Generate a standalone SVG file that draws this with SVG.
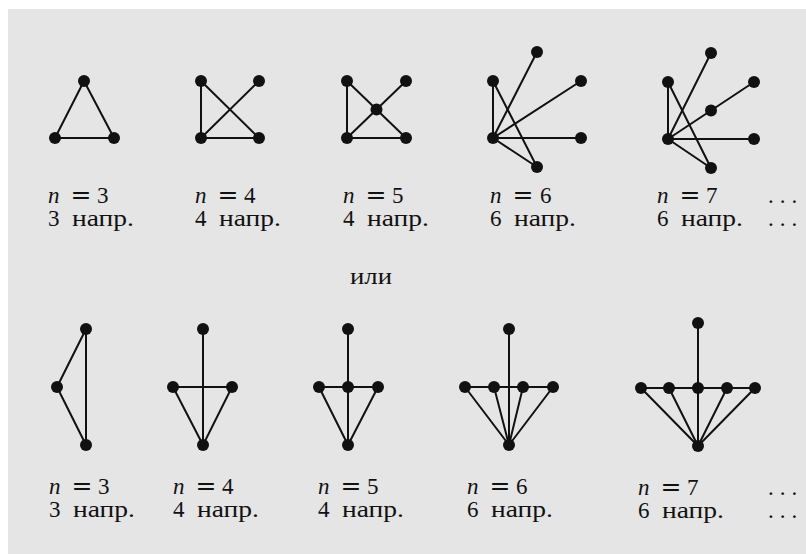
<svg xmlns="http://www.w3.org/2000/svg" width="806" height="554" viewBox="0 0 806 554">
<style>
.bg{fill:#e5e5e5}
.e{stroke:#111;stroke-width:2;fill:none;stroke-linecap:round}
.v{fill:#111}
.t{font-family:"Liberation Serif","Times New Roman",serif;font-size:23px;fill:#111}
.i{font-style:italic}
.eq{font-family:"DejaVu Serif",serif;font-size:25px}
</style>
<rect x="0" y="0" width="806" height="554" fill="#ffffff"/>
<rect class="bg" x="8" y="9" width="798" height="545"/>
<g id="connectors">
<line class="e" x1="84" y1="81" x2="55" y2="138"/>
<line class="e" x1="84" y1="81" x2="114" y2="138"/>
<line class="e" x1="55" y1="138" x2="114" y2="138"/>
<line class="e" x1="201" y1="81" x2="201" y2="138"/>
<line class="e" x1="201" y1="81" x2="259" y2="138"/>
<line class="e" x1="259" y1="81" x2="201" y2="138"/>
<line class="e" x1="201" y1="138" x2="259" y2="138"/>
<line class="e" x1="347" y1="81" x2="347" y2="138"/>
<line class="e" x1="347" y1="81" x2="406" y2="138"/>
<line class="e" x1="406" y1="81" x2="347" y2="138"/>
<line class="e" x1="347" y1="138" x2="406" y2="138"/>
<line class="e" x1="493" y1="138" x2="493" y2="81"/>
<line class="e" x1="493" y1="138" x2="537" y2="52"/>
<line class="e" x1="493" y1="138" x2="581" y2="81"/>
<line class="e" x1="493" y1="138" x2="581" y2="138"/>
<line class="e" x1="493" y1="138" x2="537" y2="167"/>
<line class="e" x1="493" y1="81" x2="537" y2="167"/>
<line class="e" x1="668" y1="139" x2="668" y2="82"/>
<line class="e" x1="668" y1="139" x2="711" y2="53"/>
<line class="e" x1="668" y1="139" x2="754" y2="82"/>
<line class="e" x1="668" y1="139" x2="754" y2="139"/>
<line class="e" x1="668" y1="139" x2="711" y2="168"/>
<line class="e" x1="668" y1="82" x2="711" y2="168"/>
<line class="e" x1="86" y1="329" x2="57" y2="387"/>
<line class="e" x1="57" y1="387" x2="86" y2="445"/>
<line class="e" x1="86" y1="329" x2="86" y2="445"/>
<line class="e" x1="203" y1="329" x2="203" y2="445"/>
<line class="e" x1="173" y1="387" x2="232" y2="387"/>
<line class="e" x1="173" y1="387" x2="203" y2="445"/>
<line class="e" x1="232" y1="387" x2="203" y2="445"/>
<line class="e" x1="348" y1="329" x2="348" y2="445"/>
<line class="e" x1="319" y1="387" x2="378" y2="387"/>
<line class="e" x1="319" y1="387" x2="348" y2="445"/>
<line class="e" x1="378" y1="387" x2="348" y2="445"/>
<line class="e" x1="509" y1="329" x2="509" y2="445"/>
<line class="e" x1="465" y1="387" x2="553" y2="387"/>
<line class="e" x1="465" y1="387" x2="509" y2="445"/>
<line class="e" x1="494" y1="387" x2="509" y2="445"/>
<line class="e" x1="523" y1="387" x2="509" y2="445"/>
<line class="e" x1="553" y1="387" x2="509" y2="445"/>
<line class="e" x1="698" y1="323" x2="698" y2="446"/>
<line class="e" x1="641" y1="388" x2="755" y2="388"/>
<line class="e" x1="641" y1="388" x2="698" y2="446"/>
<line class="e" x1="669" y1="388" x2="698" y2="446"/>
<line class="e" x1="727" y1="388" x2="698" y2="446"/>
<line class="e" x1="755" y1="388" x2="698" y2="446"/>
</g>
<g id="top-n3">
<g id="t3-a"><circle class="v" cx="84" cy="81" r="6"/></g>
<g id="t3-b"><circle class="v" cx="55" cy="138" r="6"/></g>
<g id="t3-c"><circle class="v" cx="114" cy="138" r="6"/></g>
</g>
<g id="top-n4">
<g id="t4-a"><circle class="v" cx="201" cy="81" r="6"/></g>
<g id="t4-b"><circle class="v" cx="259" cy="81" r="6"/></g>
<g id="t4-c"><circle class="v" cx="201" cy="138" r="6"/></g>
<g id="t4-d"><circle class="v" cx="259" cy="138" r="6"/></g>
</g>
<g id="top-n5">
<g id="t5-a"><circle class="v" cx="347" cy="81" r="6"/></g>
<g id="t5-b"><circle class="v" cx="406" cy="81" r="6"/></g>
<g id="t5-m"><circle class="v" cx="376.5" cy="109.5" r="6"/></g>
<g id="t5-c"><circle class="v" cx="347" cy="138" r="6"/></g>
<g id="t5-d"><circle class="v" cx="406" cy="138" r="6"/></g>
</g>
<g id="top-n6">
<g id="t6-h"><circle class="v" cx="493" cy="138" r="6"/></g>
<g id="t6-a"><circle class="v" cx="493" cy="81" r="6"/></g>
<g id="t6-t"><circle class="v" cx="537" cy="52" r="6"/></g>
<g id="t6-r1"><circle class="v" cx="581" cy="81" r="6"/></g>
<g id="t6-r2"><circle class="v" cx="581" cy="138" r="6"/></g>
<g id="t6-b"><circle class="v" cx="537" cy="167" r="6"/></g>
</g>
<g id="top-n7">
<g id="t7-h"><circle class="v" cx="668" cy="139" r="6"/></g>
<g id="t7-a"><circle class="v" cx="668" cy="82" r="6"/></g>
<g id="t7-t"><circle class="v" cx="711" cy="53" r="6"/></g>
<g id="t7-r1"><circle class="v" cx="754" cy="82" r="6"/></g>
<g id="t7-m"><circle class="v" cx="711" cy="110.5" r="6"/></g>
<g id="t7-r2"><circle class="v" cx="754" cy="139" r="6"/></g>
<g id="t7-b"><circle class="v" cx="711" cy="168" r="6"/></g>
</g>
<g id="bot-n3">
<g id="b3-t"><circle class="v" cx="86" cy="329" r="6"/></g>
<g id="b3-l"><circle class="v" cx="57" cy="387" r="6"/></g>
<g id="b3-b"><circle class="v" cx="86" cy="445" r="6"/></g>
</g>
<g id="bot-n4">
<g id="b4-t"><circle class="v" cx="203" cy="329" r="6"/></g>
<g id="b4-l"><circle class="v" cx="173" cy="387" r="6"/></g>
<g id="b4-r"><circle class="v" cx="232" cy="387" r="6"/></g>
<g id="b4-b"><circle class="v" cx="203" cy="445" r="6"/></g>
</g>
<g id="bot-n5">
<g id="b5-t"><circle class="v" cx="348" cy="329" r="6"/></g>
<g id="b5-l"><circle class="v" cx="319" cy="387" r="6"/></g>
<g id="b5-c"><circle class="v" cx="348" cy="387" r="6"/></g>
<g id="b5-r"><circle class="v" cx="378" cy="387" r="6"/></g>
<g id="b5-b"><circle class="v" cx="348" cy="445" r="6"/></g>
</g>
<g id="bot-n6">
<g id="b6-t"><circle class="v" cx="509" cy="329" r="6"/></g>
<g id="b6-1"><circle class="v" cx="465" cy="387" r="6"/></g>
<g id="b6-2"><circle class="v" cx="494" cy="387" r="6"/></g>
<g id="b6-3"><circle class="v" cx="523" cy="387" r="6"/></g>
<g id="b6-4"><circle class="v" cx="553" cy="387" r="6"/></g>
<g id="b6-b"><circle class="v" cx="509" cy="445" r="6"/></g>
</g>
<g id="bot-n7">
<g id="b7-t"><circle class="v" cx="698" cy="323" r="6"/></g>
<g id="b7-1"><circle class="v" cx="641" cy="388" r="6"/></g>
<g id="b7-2"><circle class="v" cx="669" cy="388" r="6"/></g>
<g id="b7-3"><circle class="v" cx="698" cy="388" r="6"/></g>
<g id="b7-4"><circle class="v" cx="727" cy="388" r="6"/></g>
<g id="b7-5"><circle class="v" cx="755" cy="388" r="6"/></g>
<g id="b7-b"><circle class="v" cx="698" cy="446" r="6"/></g>
</g>
<g id="labels">
<text class="t"><tspan class="i" x="48" y="203">n</tspan><tspan class="eq" x="81" y="203" text-anchor="middle">=</tspan><tspan x="97" y="203">3</tspan><tspan x="48" y="226">3</tspan><tspan x="72" y="226" textLength="62" lengthAdjust="spacingAndGlyphs">напр.</tspan></text>
<text class="t"><tspan class="i" x="195" y="203">n</tspan><tspan class="eq" x="228" y="203" text-anchor="middle">=</tspan><tspan x="244" y="203">4</tspan><tspan x="195" y="226">4</tspan><tspan x="219" y="226" textLength="62" lengthAdjust="spacingAndGlyphs">напр.</tspan></text>
<text class="t"><tspan class="i" x="343" y="203">n</tspan><tspan class="eq" x="376" y="203" text-anchor="middle">=</tspan><tspan x="392" y="203">5</tspan><tspan x="343" y="226">4</tspan><tspan x="367" y="226" textLength="62" lengthAdjust="spacingAndGlyphs">напр.</tspan></text>
<text class="t"><tspan class="i" x="490" y="203">n</tspan><tspan class="eq" x="523" y="203" text-anchor="middle">=</tspan><tspan x="540" y="203">6</tspan><tspan x="490" y="226">6</tspan><tspan x="514" y="226" textLength="62" lengthAdjust="spacingAndGlyphs">напр.</tspan></text>
<text class="t"><tspan class="i" x="657" y="203">n</tspan><tspan class="eq" x="690" y="203" text-anchor="middle">=</tspan><tspan x="706" y="203">7</tspan><tspan x="657" y="226">6</tspan><tspan x="681" y="226" textLength="62" lengthAdjust="spacingAndGlyphs">напр.</tspan></text>
<text class="t" letter-spacing="6"><tspan x="768" y="203">...</tspan><tspan x="768" y="226">...</tspan></text>
<text class="t" x="350" y="284" textLength="42" lengthAdjust="spacingAndGlyphs">или</text>
<text class="t"><tspan class="i" x="49" y="494">n</tspan><tspan class="eq" x="82" y="494" text-anchor="middle">=</tspan><tspan x="98" y="494">3</tspan><tspan x="49" y="517">3</tspan><tspan x="73" y="517" textLength="62" lengthAdjust="spacingAndGlyphs">напр.</tspan></text>
<text class="t"><tspan class="i" x="173" y="494">n</tspan><tspan class="eq" x="206" y="494" text-anchor="middle">=</tspan><tspan x="222" y="494">4</tspan><tspan x="173" y="517">4</tspan><tspan x="197" y="517" textLength="62" lengthAdjust="spacingAndGlyphs">напр.</tspan></text>
<text class="t"><tspan class="i" x="318" y="494">n</tspan><tspan class="eq" x="351" y="494" text-anchor="middle">=</tspan><tspan x="367" y="494">5</tspan><tspan x="318" y="517">4</tspan><tspan x="342" y="517" textLength="62" lengthAdjust="spacingAndGlyphs">напр.</tspan></text>
<text class="t"><tspan class="i" x="467" y="494">n</tspan><tspan class="eq" x="500" y="494" text-anchor="middle">=</tspan><tspan x="516" y="494">6</tspan><tspan x="467" y="517">6</tspan><tspan x="491" y="517" textLength="62" lengthAdjust="spacingAndGlyphs">напр.</tspan></text>
<text class="t"><tspan class="i" x="638" y="495">n</tspan><tspan class="eq" x="671" y="495" text-anchor="middle">=</tspan><tspan x="687" y="495">7</tspan><tspan x="638" y="518">6</tspan><tspan x="662" y="518" textLength="62" lengthAdjust="spacingAndGlyphs">напр.</tspan></text>
<text class="t" letter-spacing="6"><tspan x="768" y="495">...</tspan><tspan x="768" y="518">...</tspan></text>
</g>
</svg>
